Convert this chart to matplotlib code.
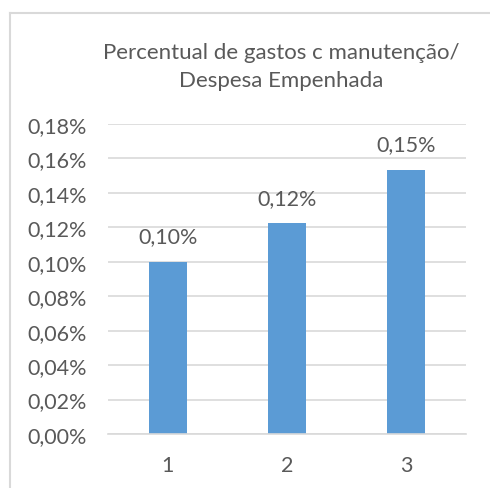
import matplotlib
matplotlib.use("Agg")
import matplotlib.pyplot as plt
from matplotlib.lines import Line2D

BAR, INK, GRID, FRAME = "#5b9bd5", "#595959", "#d9d9d9", "#d9d9d9"

categories = ["1", "2", "3"]
values = [0.100, 0.1225, 0.1535]          # percent
labels = ["0,10%", "0,12%", "0,15%"]
yticks = [0.00, 0.02, 0.04, 0.06, 0.08, 0.10, 0.12, 0.14, 0.16, 0.18]

plt.rcParams["font.family"] = ["Lato", "DejaVu Sans"]

W, H = 490, 489
fig = plt.figure(figsize=(W / 100, H / 100), dpi=100)
ax = fig.add_axes([108 / W, 1 - 435 / H, (466 - 108) / W, (435 - 125) / H])

xs = list(range(len(categories)))
ax.bar(xs, values, width=0.32, color=BAR, zorder=2)
for x, v, lab in zip(xs, values, labels):
    ax.annotate(lab, (x, v), xytext=(0, 11), textcoords="offset points",
                ha="center", va="bottom", fontsize=15.5, color=INK)

ax.set_xlim(-0.5, 2.5)
ax.set_ylim(0, 0.18)
ax.set_yticks(yticks)
ax.set_yticklabels([f"{t:.2f}%".replace(".", ",") for t in yticks])
ax.set_xticks(xs)
ax.set_xticklabels(categories)
ax.yaxis.grid(True, color=GRID, lw=1.2)
ax.set_axisbelow(True)
for sp in ("top", "right", "left"):
    ax.spines[sp].set_visible(False)
ax.spines["bottom"].set_color(GRID)
ax.spines["bottom"].set_linewidth(1.2)
ax.tick_params(axis="both", length=0, labelsize=15.5, colors=INK)
ax.tick_params(axis="y", pad=15)
ax.tick_params(axis="x", pad=15)

fig.text(281 / W, 1 - 67 / H, "Percentual de gastos c manutenção/\nDespesa Empenhada",
         ha="center", va="center", multialignment="center",
         fontsize=16, color=INK, linespacing=1.45)

# chart frame (top and left edges visible)
fig.add_artist(Line2D([9.5 / W, 1], [1 - 13.5 / H] * 2, color=FRAME, lw=1.5))
fig.add_artist(Line2D([9.5 / W] * 2, [0, 1 - 13.5 / H], color=FRAME, lw=1.5))

fig.savefig("out.png", dpi=100)
